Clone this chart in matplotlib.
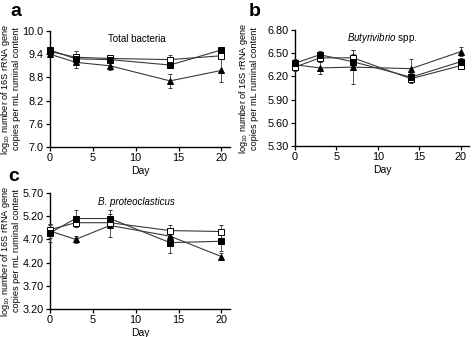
import matplotlib
matplotlib.use("Agg")
import matplotlib.pyplot as plt

plt.rcParams['font.family'] = ['Liberation Sans', 'DejaVu Sans']
plt.rcParams['mathtext.fontset'] = 'custom'
plt.rcParams['mathtext.rm'] = 'Liberation Sans'
plt.rcParams['mathtext.it'] = 'Liberation Sans:italic'
plt.rcParams['mathtext.default'] = 'regular'

days = [0, 3, 7, 14, 20]

# Panel a: Total bacteria
a_filled = [9.51, 9.28, 9.26, 9.12, 9.51]
a_open = [9.47, 9.32, 9.29, 9.26, 9.36]
a_tri = [9.40, 9.19, 9.10, 8.71, 8.98]
a_filled_err = [0.05, 0.12, 0.08, 0.06, 0.06]
a_open_err = [0.05, 0.15, 0.10, 0.12, 0.08]
a_tri_err = [0.05, 0.15, 0.10, 0.18, 0.30]

# Panel b: Butyrivibrio spp.
b_filled = [6.37, 6.48, 6.39, 6.19, 6.39]
b_open = [6.32, 6.44, 6.44, 6.17, 6.34]
b_tri = [6.35, 6.31, 6.32, 6.30, 6.52]
b_filled_err = [0.05, 0.05, 0.10, 0.05, 0.05]
b_open_err = [0.05, 0.06, 0.10, 0.05, 0.05]
b_tri_err = [0.04, 0.08, 0.22, 0.12, 0.06]

# Panel c: B. proteoclasticus
c_filled = [4.84, 5.15, 5.15, 4.63, 4.66]
c_open = [4.91, 5.06, 5.06, 4.89, 4.87]
c_tri = [4.88, 4.70, 5.00, 4.77, 4.33]
c_filled_err = [0.20, 0.18, 0.18, 0.22, 0.22]
c_open_err = [0.10, 0.10, 0.12, 0.12, 0.15]
c_tri_err = [0.15, 0.08, 0.25, 0.10, 0.08]

a_yticks = [7.0, 7.6, 8.2, 8.8, 9.4, 10.0]
b_yticks = [5.30, 5.60, 5.90, 6.20, 6.50, 6.80]
c_yticks = [3.20, 3.70, 4.20, 4.70, 5.20, 5.70]
xticks = [0, 5, 10, 15, 20]

W, H = 472, 337
fig = plt.figure(figsize=(W / 100, H / 100), dpi=100)

def ax_px(l, t, r, b):
    return fig.add_axes([l / W, 1 - b / H, (r - l) / W, (b - t) / H])

ylab = "log$_{10}$ number of 16S rRNA gene\ncopies per mL ruminal content"
lc = '#3a3a3a'

def panel(ax, filled, fe, opn, oe, tri, te, yticks, fmt, labx):
    for vals, err, mk, fc in [(tri, te, '^', 'black'), (opn, oe, 's', 'white'), (filled, fe, 's', 'black')]:
        ax.errorbar(days, vals, yerr=err, color=lc, lw=0.8, marker=mk, ms=3.7,
                    mfc=fc, mec='black', mew=0.7, ecolor=lc, elinewidth=0.6, capsize=1.3,
                    capthick=0.6, clip_on=False, zorder=3)
    ax.set_xlim(0, 21)
    ax.set_ylim(yticks[0], yticks[-1])
    ax.set_xticks(xticks)
    ax.set_yticks(yticks)
    ax.set_yticklabels([fmt.format(v) for v in yticks])
    for s in ['top', 'right']:
        ax.spines[s].set_visible(False)
    for s in ['left', 'bottom']:
        ax.spines[s].set_linewidth(1.0)
    ax.tick_params(direction='out', length=3, width=0.9, labelsize=7.8, pad=1.5)
    ax.set_xlabel('Day', fontsize=7.5, labelpad=2)
    ax.set_ylabel(ylab, fontsize=6.6, linespacing=1.0)
    ax.yaxis.set_label_coords(labx, 0.5)
    return ax

axa = ax_px(50, 31, 230, 147)
panel(axa, a_filled, a_filled_err, a_open, a_open_err, a_tri, a_tri_err, a_yticks, '{:.1f}', -0.16)
axa.text(0.48, 0.93, 'Total bacteria', transform=axa.transAxes, ha='center', va='center', fontsize=7)

axb = ax_px(295, 30, 469, 146)
panel(axb, b_filled, b_filled_err, b_open, b_open_err, b_tri, b_tri_err, b_yticks, '{:.2f}', -0.205)
axb.text(0.50, 0.93, '$\\it{Butyrivibrio}$ spp.', transform=axb.transAxes, ha='center', va='center', fontsize=7)

axc = ax_px(50, 193, 230, 309)
panel(axc, c_filled, c_filled_err, c_open, c_open_err, c_tri, c_tri_err, c_yticks, '{:.2f}', -0.16)
axc.text(0.48, 0.92, 'B. proteoclasticus', transform=axc.transAxes, ha='center', va='center',
         fontsize=7, style='italic')

fig.text(10 / W, 1 - 12 / H, 'a', fontsize=14, fontweight='bold', ha='left', va='center')
fig.text(249 / W, 1 - 12 / H, 'b', fontsize=14, fontweight='bold', ha='left', va='center')
fig.text(8 / W, 1 - 176 / H, 'c', fontsize=14, fontweight='bold', ha='left', va='center')

fig.savefig('out.png', dpi=100)
